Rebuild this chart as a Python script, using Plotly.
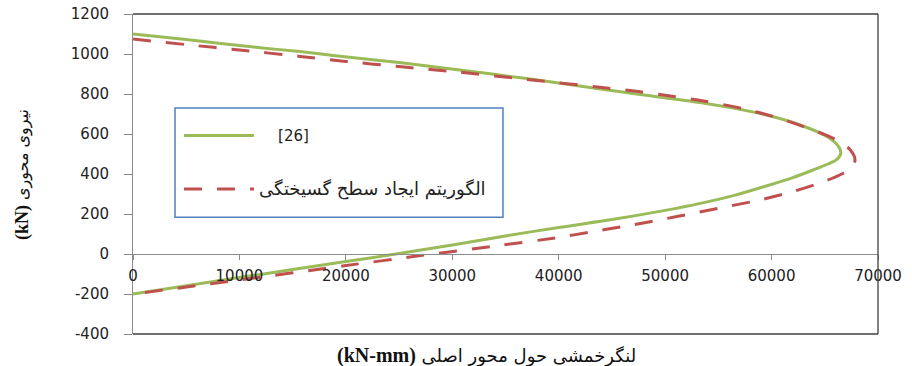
import plotly.graph_objects as go

# Series "[26]" (moment kN-mm, axial kN)
moment_26 = [0, 5000, 12600, 15700, 18800, 25000, 30700, 37000, 43900, 48000, 53300, 59500,
             62700, 65200, 66300, 66500, 66100, 65300, 63900, 62000, 59500, 56500, 53300,
             50000, 45000, 40000, 35000, 30000, 25000, 20000, 10000, 0]
axial_26 = [1100, 1072, 1028, 1012, 993, 957, 920, 877, 825, 795, 757, 695,
            645, 587, 537, 503, 472, 450, 420, 382, 340, 293, 253,
            218, 172, 133, 90, 45, 2, -38, -118, -200]

# Series: failure-surface generation algorithm
moment_alg = [0, 5000, 10000, 15700, 20000, 25000, 30700, 37000, 44500, 47500, 50500, 53600,
              57200, 60200, 63000, 65800, 67400, 67840, 67500, 66400, 64900, 62000, 58900,
              55800, 52600, 49500, 47000, 43200, 40000, 34000, 27000, 20000, 10000, 0]
axial_alg = [1075, 1047, 1020, 988, 963, 937, 909, 873, 830, 812, 790, 765,
             728, 687, 637, 578, 520, 470, 428, 395, 362, 312, 270,
             237, 203, 171, 146, 112, 83, 40, -8, -58, -130, -200]

name_26 = "\u00a0\u00a0\u00a0\u00a0[26]"
name_alg = "<span style='font-size:18px'>الگوریتم ایجاد سطح گسیختگی</span>"

x_ticks = [0, 10000, 20000, 30000, 40000, 50000, 60000, 70000]
y_ticks = [-400, -200, 0, 200, 400, 600, 800, 1000, 1200]

x_title = ("<b><span style='font-family:Liberation Serif;font-size:20px'>(kN-mm)</span></b> "
           "لنگرخمشی حول محور اصلی")
y_title = ("<b><span style='font-family:Liberation Serif;font-size:18px'>(kN)</span></b> "
           "نیروی محوری")

fig = go.Figure()
fig.add_trace(go.Scatter(x=moment_26, y=axial_26, mode="lines", name=name_26,
                         legendgroup="a",
                         line=dict(color="#9bbb59", width=3, shape="spline", smoothing=0.8)))
fig.add_trace(go.Scatter(x=moment_alg, y=axial_alg, mode="lines", name=name_alg,
                         legendgroup="b",
                         line=dict(color="#c0504d", width=3, dash="18px,15px",
                                   shape="spline", smoothing=0.8)))

fig.update_layout(
    width=912, height=366,
    margin=dict(l=133, r=34, t=14, b=32),
    paper_bgcolor="white", plot_bgcolor="white",
    font=dict(family="DejaVu Sans", size=15, color="#222"),
    showlegend=True,
    legend=dict(x=0.0617, y=0.671, xanchor="left", yanchor="top",
                bgcolor="rgba(0,0,0,0)", borderwidth=0,
                traceorder="grouped", tracegroupgap=31, itemwidth=70,
                font=dict(family="DejaVu Sans", size=15, color="#222")),
    xaxis=dict(range=[0, 70000], tickvals=x_ticks, ticktext=[str(v) for v in x_ticks],
               showgrid=False, zeroline=False, showline=True, linecolor="#8c8c8c", linewidth=1,
               ticks="outside", ticklen=5, tickcolor="#8c8c8c", automargin=False,
               anchor="free", position=0.25, ticklabelstandoff=3,
               tickfont=dict(family="DejaVu Sans", size=15, color="#222")),
    yaxis=dict(range=[-400, 1200], tickvals=y_ticks, ticktext=[str(v) for v in y_ticks],
               showgrid=False, zeroline=False, showline=True, linecolor="#8c8c8c", linewidth=1,
               ticks="outside", ticklen=8, tickcolor="#8c8c8c", ticklabelstandoff=12,
               automargin=False,
               tickfont=dict(family="DejaVu Sans", size=15, color="#222")),
    shapes=[
        dict(type="line", xref="paper", yref="paper", x0=0, x1=1, y0=1, y1=1,
             line=dict(color="#404040", width=1.3)),
        dict(type="line", xref="paper", yref="paper", x0=1, x1=1, y0=0, y1=1,
             line=dict(color="#404040", width=1.3)),
        dict(type="line", xref="paper", yref="paper", x0=0, x1=1, y0=0, y1=0,
             line=dict(color="#404040", width=1.3)),
        dict(type="rect", xref="paper", yref="paper", x0=0.0564, x1=0.4966, y0=0.365, y1=0.706,
             line=dict(color="#4f81bd", width=1.5), fillcolor="rgba(0,0,0,0)"),
    ],
    annotations=[
        dict(text=x_title, xref="paper", yref="paper", x=0.475, y=-0.066,
             xanchor="center", yanchor="middle", showarrow=False,
             font=dict(family="DejaVu Sans", size=18, color="#111")),
        dict(text=y_title, xref="paper", yref="paper", x=-0.149, y=0.5, textangle=-90,
             xanchor="center", yanchor="middle", showarrow=False,
             font=dict(family="DejaVu Sans", size=16, color="#111")),
    ],
)

fig.write_html("out.html", config={"displayModeBar": False},
               post_script="document.body.style.margin='0';document.body.style.overflow='hidden';")
